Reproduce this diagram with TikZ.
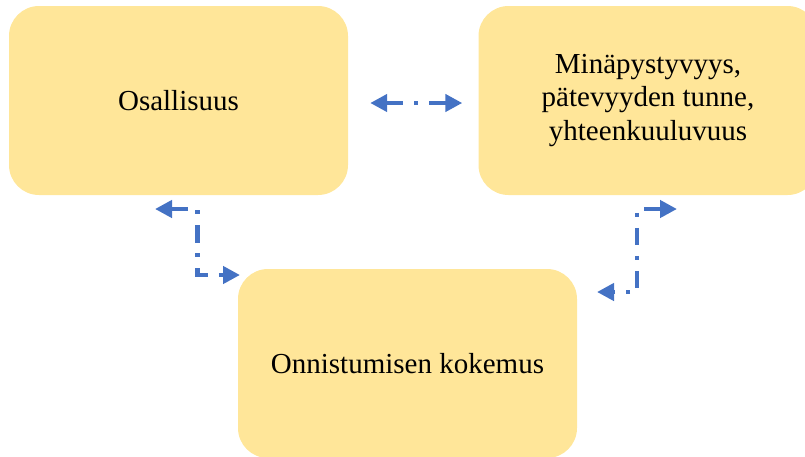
\documentclass[tikz,border=0pt]{standalone}
\usepackage{fontspec}
\setmainfont{Liberation Serif}
\usetikzlibrary{arrows.meta,positioning,calc}
\definecolor{keltainen}{HTML}{FFE699}
\definecolor{sininen}{HTML}{4472C4}
\tikzset{
	laatikko/.style={fill=keltainen,rounded corners=30pt,minimum width=339pt,minimum height=189pt,
		inner sep=0pt,align=center,font=\fontsize{29}{33.5}\selectfont},
	yhteys/.style={sininen,line width=4.5pt,dash pattern=on 17pt off 11pt on 4pt off 11pt,
		{Triangle[length=17pt,width=17pt]}-{Triangle[length=17pt,width=17pt]}}
}
\begin{document}
\begin{tikzpicture}[x=1pt,y=-1pt]
	\useasboundingbox (0,0) rectangle (805,456);
	\node[laatikko] (osallisuus) at (178.5,100.5) {Osallisuus};
	\node[laatikko] (minapystyvyys) at (648,100.5) {Minäpystyvyys,\\pätevyyden tunne,\\yhteenkuuluvuus};
	\node[laatikko] (onnistuminen) at (407.5,363.5) {Onnistumisen kokemus};
	% vapaat päät
	\coordinate (k1a) at ([shift={(22,2.5)}]osallisuus.east);
	\coordinate (k1b) at ([shift={(-16,2.5)}]minapystyvyys.west);
	\coordinate (k2a) at (155,209);
	\coordinate (k2b) at (240,275);
	\coordinate (k3a) at (677,209);
	\coordinate (k3b) at (597,292);
	\draw[yhteys] (k1a) -- (k1b);
	\draw[yhteys] (k2a) -| ($(k2a)!0.5!(k2b)$) |- (k2b);
	\draw[yhteys] (k3a) -| ($(k3a)!0.5!(k3b)$) |- (k3b);
\end{tikzpicture}
\end{document}
